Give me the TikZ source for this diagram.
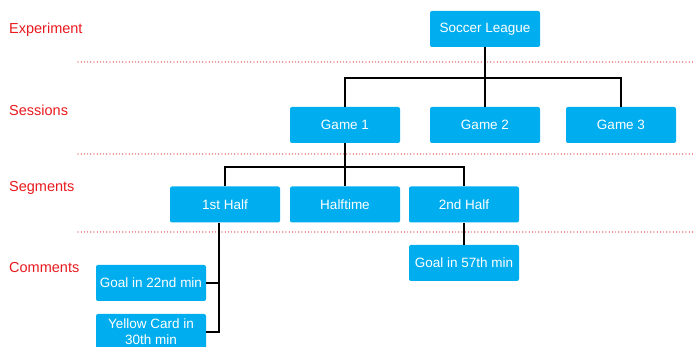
\documentclass[tikz,border=0pt]{standalone}
\usepackage{fontspec}
\setmainfont{Liberation Sans}
\usetikzlibrary{calc}
\definecolor{boxblue}{RGB}{0,174,239}
\definecolor{levelred}{RGB}{232,25,30}

\begin{document}
\begin{tikzpicture}[x=1pt,y=-1pt,
	box/.style={fill=boxblue, rounded corners=2pt, minimum width=110pt, minimum height=36pt, inner sep=2pt, text=white, align=center, font=\fontsize{13.5}{16}\selectfont},
	level/.style={text=levelred, anchor=west, inner sep=0pt, font=\fontsize{14.5}{16}\selectfont},
	sep/.style={levelred, line width=1.2pt, line cap=round, dash pattern=on 0pt off 3.2pt},
	link/.style={line width=2pt}]
	\useasboundingbox (0,0) rectangle (694,347);
	
	% level names
	\node[level] (lexp) at (9,30) {Experiment};
	\node[level] (lses) at (9,110) {Sessions};
	\node[level] (lseg) at (9,188) {Segments};
	\node[level] (lcom) at (9,268) {Comments};
	
	% separators
	\foreach \y in {62,154,232}
		\draw[sep] (78,\y) -- (694,\y);
	
	% boxes
	\node[box] (league) at (485,29) {Soccer League};
	\node[box] (game1) at (345,125) {Game 1};
	\node[box] (game2) at (485,125) {Game 2};
	\node[box] (game3) at (621,125) {Game 3};
	\node[box] (half1) at (225,204.5) {1st Half};
	\node[box] (halftime) at (345,204.5) {Halftime};
	\node[box] (half2) at (464,204.5) {2nd Half};
	\node[box] (goal57) at (464,263) {Goal in 57th min};
	\node[box] (goal22) at (151,283) {Goal in 22nd min};
	\node[box] (yellow) at (151,332) {Yellow Card in\\30th min};
	
	% links
	\draw[link] (league.south) -- (game2.north);
	\draw[link] (game1.north) -- ++(0,-29) -| (game3.north);
	\draw[link] (game1.south) -- (halftime.north);
	\draw[link] (half1.north) -- ++(0,-19) -| (half2.north);
	\draw[link] (half2.south) -- (goal57.north);
	\draw[link] ([xshift=-6pt]half1.south) coordinate (drop) |- (yellow.east);
	\draw[link] (goal22.east) -- (goal22.east -| drop);
\end{tikzpicture}
\end{document}
